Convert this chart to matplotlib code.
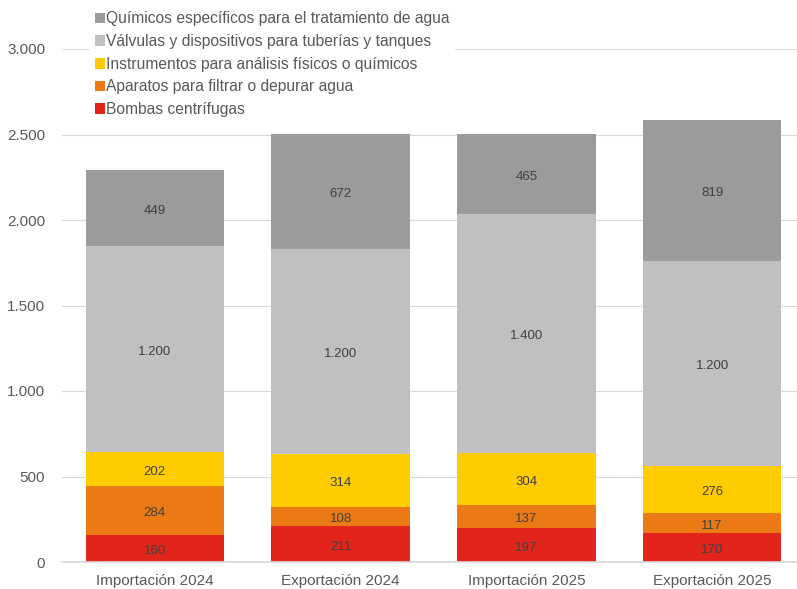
import numpy as np
import matplotlib.pyplot as plt
from matplotlib.ticker import FuncFormatter

plt.rcParams['font.family'] = ['Liberation Sans', 'DejaVu Sans']

categories = ["Importación 2024", "Exportación 2024", "Importación 2025", "Exportación 2025"]
series_names = ["Bombas centrífugas",
                "Aparatos para filtrar o depurar agua",
                "Instrumentos para análisis físicos o químicos",
                "Válvulas y dispositivos para tuberías y tanques",
                "Químicos específicos para el tratamiento de agua"]
bombas = [160, 211, 197, 170]
aparatos = [284, 108, 137, 117]
instrumentos = [202, 314, 304, 276]
valvulas = [1200, 1200, 1400, 1200]
quimicos = [449, 672, 465, 819]
colors = ["#E1251B", "#EC7A14", "#FFCC00", "#C1BFC1", "#9C9A9C"]

W, H = 797, 589
fig = plt.figure(figsize=(W / 100, H / 100), dpi=100)
ax = fig.add_axes([62 / W, (H - 562) / H, (W - 62) / W, (562 - 49) / H])

x = np.arange(len(categories))
bottom = np.zeros(len(categories))
handles = []
for name, vals, col in zip(series_names, [bombas, aparatos, instrumentos, valvulas, quimicos], colors):
    vals = np.array(vals, dtype=float)
    b = ax.bar(x, vals, 0.745, bottom=bottom, color=col, label=name, zorder=2)
    handles.append(b)
    for xi, v, bt in zip(x, vals, bottom):
        lbl = f"{int(v):,}".replace(",", ".")
        ax.annotate(lbl, (xi, bt + v / 2), xytext=(0, -2), textcoords='offset points',
                    ha='center', va='center', fontsize=9.5, color="#404040", zorder=3)
    bottom += vals

ax.set_xlim(-0.5, 3.5 - (805 - W) / 186)
ax.set_ylim(0, 3000)
ax.set_yticks(np.arange(0, 3001, 500))
ax.yaxis.set_major_formatter(FuncFormatter(lambda v, p: f"{int(v):,}".replace(",", ".")))
ax.set_xticks(x)
ax.set_xticklabels(categories)
ax.grid(axis='y', color="#D9D9D9", linewidth=0.8, zorder=0)
ax.set_axisbelow(True)
for s in ['top', 'right', 'left']:
    ax.spines[s].set_visible(False)
ax.spines['bottom'].set_color("#D9D9D9")
ax.spines['bottom'].set_linewidth(1.2)
ax.tick_params(length=0, labelsize=11, colors="#595959")
ax.tick_params(axis='x', pad=9)
ax.tick_params(axis='y', pad=12)

leg = fig.legend(handles[::-1], series_names[::-1], loc='upper left',
                 bbox_to_anchor=(82 / W, 1.0 + 1 / H), fontsize=11.25, frameon=True,
                 framealpha=1, edgecolor='white', facecolor='white', fancybox=False,
                 handlelength=0.65, handleheight=0.65, handletextpad=0.1,
                 labelspacing=0.49, borderpad=0.3, labelcolor="#595959")

fig.savefig("out.png", dpi=100)
